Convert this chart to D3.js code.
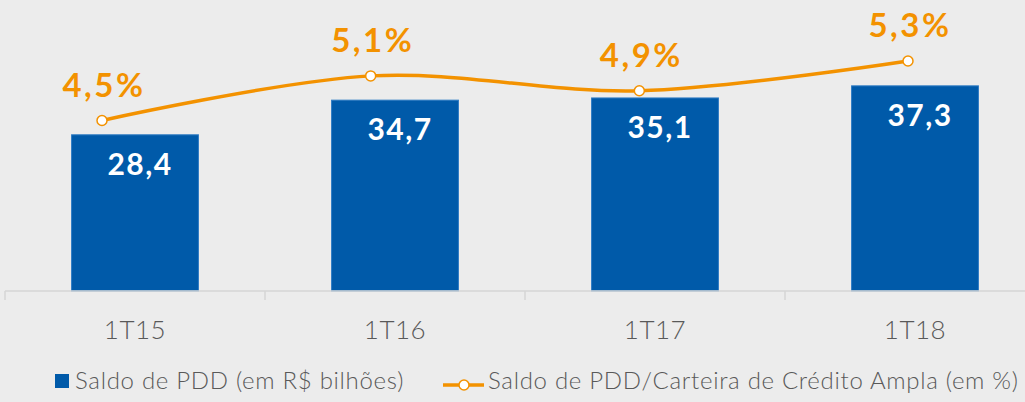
<!doctype html>
<html>
<head>
  <script src="https://d3js.org/d3.v7.min.js" charset="utf-8"></script>
  <style>
    body { margin: 0; background: #ececec; }
    text { font-family: Lato, "Open Sans", sans-serif; }
  </style>
</head>
<body>
  <div id="viz"></div>
  <script>
    // data
    var periods = ["1T15", "1T16", "1T17", "1T18"];
    var saldoPDD = [28.4, 34.7, 35.1, 37.3];          // R$ bilhoes
    var pddCarteira = [4.5, 5.1, 4.9, 5.3];           // %
    var legendLabels = ["Saldo de PDD (em R$ bilhões)", "Saldo de PDD/Carteira de Crédito Ampla (em %)"];

    var width = 1025, height = 402;
    var blue = "#005aa9", orange = "#f39200", grey = "#595959";

    var svg = d3.select("#viz")
      .append("svg")
      .attr("width", width)
      .attr("height", height)
      .style("display", "block");

    svg.append("rect").attr("width", width).attr("height", height).attr("fill", "#ececec");

    // scales
    var x = d3.scaleBand().domain(periods).range([5, 1045]).paddingInner(0.512).paddingOuter(0.256);
    var y = d3.scaleLinear().domain([0, 50]).range([291, 16]);
    // line series sits on its own (secondary) axis in the original
    var x2 = d3.scalePoint().domain(periods).range([102, 908]);
    var y2 = d3.scaleLinear().domain([4.5, 5.3]).range([120.5, 61]);

    // bars
    svg.selectAll(".bar")
      .data(saldoPDD)
      .enter()
      .append("rect")
      .attr("class", "bar")
      .attr("x", function(d, i) { return x(periods[i]); })
      .attr("y", function(d) { return y(d); })
      .attr("width", x.bandwidth())
      .attr("height", function(d) { return y(0) - y(d); })
      .attr("fill", blue)
      .attr("stroke", "#2f7cc4")
      .attr("stroke-width", 1);

    svg.selectAll(".barLabel")
      .data(saldoPDD)
      .enter()
      .append("text")
      .attr("class", "barLabel")
      .attr("x", function(d, i) { return x(periods[i]) + x.bandwidth() / 2 + 5; })
      .attr("y", function(d) { return y(d) + 40; })
      .attr("text-anchor", "middle")
      .attr("fill", "white")
      .style("font-size", "30px")
      .style("font-weight", "bold")
      .style("letter-spacing", "1.5px")
      .text(function(d) { return d.toFixed(1).replace(".", ","); });

    // x axis
    var axis = svg.append("g")
      .attr("transform", "translate(0,291)")
      .call(d3.axisBottom(x).tickSize(0).tickPadding(30));
    axis.select(".domain").remove();
    axis.selectAll("text")
      .attr("fill", grey)
      .style("font-size", "26px")
      .style("font-weight", "300")
      .style("letter-spacing", "0.5px")
      .attr("font-family", null);

    axis.append("line")
      .attr("x1", x.range()[0]).attr("x2", x.range()[1])
      .attr("stroke", "#d6d6d6").attr("stroke-width", 1.5);
    var edges = periods.map(function(p) { return x(p) - x.step() * x.paddingInner() / 2; })
      .concat([x.range()[1]]);
    axis.selectAll(".edge")
      .data(edges)
      .enter()
      .append("line")
      .attr("class", "edge")
      .attr("x1", function(d) { return d; }).attr("x2", function(d) { return d; })
      .attr("y1", 0).attr("y2", 9)
      .attr("stroke", "#d6d6d6").attr("stroke-width", 1.5);

    // line
    var line = d3.line()
      .x(function(d, i) { return x2(periods[i]); })
      .y(function(d) { return y2(d); })
      .curve(d3.curveCatmullRom.alpha(0));

    svg.append("path")
      .datum(pddCarteira)
      .attr("d", line)
      .attr("fill", "none")
      .attr("stroke", orange)
      .attr("stroke-width", 3.5);

    svg.selectAll(".dot")
      .data(pddCarteira)
      .enter()
      .append("circle")
      .attr("class", "dot")
      .attr("cx", function(d, i) { return x2(periods[i]); })
      .attr("cy", function(d) { return y2(d); })
      .attr("r", 5)
      .attr("fill", "white")
      .attr("stroke", orange)
      .attr("stroke-width", 1.5);

    svg.selectAll(".pctLabel")
      .data(pddCarteira)
      .enter()
      .append("text")
      .attr("class", "pctLabel")
      .attr("x", function(d, i) { return x2(periods[i]) + 2; })
      .attr("y", function(d) { return y2(d) - 24; })
      .attr("text-anchor", "middle")
      .attr("fill", orange)
      .style("font-size", "33px")
      .style("font-weight", "bold")
      .style("letter-spacing", "2.5px")
      .text(function(d) { return d.toFixed(1).replace(".", ",") + "%"; });

    // legend
    var leg = svg.append("g");
    leg.append("rect").attr("x", 55).attr("y", 374).attr("width", 14).attr("height", 14).attr("fill", blue);
    leg.append("text").attr("x", 75).attr("y", 389).attr("fill", grey)
      .style("font-size", "24px").style("font-weight", "300").style("letter-spacing", "0.7px")
      .text(legendLabels[0]);

    leg.append("line").attr("x1", 443).attr("x2", 484).attr("y1", 385).attr("y2", 385)
      .attr("stroke", orange).attr("stroke-width", 3.5);
    leg.append("circle").attr("cx", 464).attr("cy", 385).attr("r", 5)
      .attr("fill", "white").attr("stroke", orange).attr("stroke-width", 1.5);
    leg.append("text").attr("x", 488).attr("y", 389).attr("fill", grey)
      .style("font-size", "24px").style("font-weight", "300").style("letter-spacing", "0.7px")
      .text(legendLabels[1]);
  </script>
</body>
</html>
